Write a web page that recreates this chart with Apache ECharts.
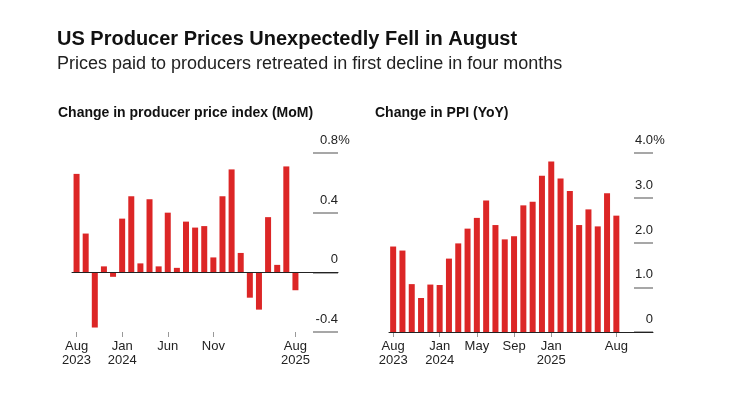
<!DOCTYPE html>
<html>
<head>
<meta charset="utf-8">
<script src="https://cdn.jsdelivr.net/npm/echarts@6/dist/echarts.min.js"></script>
<style>
  html, body { margin: 0; padding: 0; background: #fff; }
  #main { width: 733px; height: 397px; }
</style>
</head>
<body>
<div id="main"></div>
<script>
// months Aug 2023 .. Aug 2025
var months = ['Aug 2023', 'Sep 2023', 'Oct 2023', 'Nov 2023', 'Dec 2023',
  'Jan 2024', 'Feb 2024', 'Mar 2024', 'Apr 2024', 'May 2024', 'Jun 2024',
  'Jul 2024', 'Aug 2024', 'Sep 2024', 'Oct 2024', 'Nov 2024', 'Dec 2024',
  'Jan 2025', 'Feb 2025', 'Mar 2025', 'Apr 2025', 'May 2025', 'Jun 2025',
  'Jul 2025', 'Aug 2025']

// PPI month over month, %
var momValues = [0.66, 0.26, -0.37, 0.04, -0.03, 0.36, 0.51, 0.06, 0.49, 0.04,
  0.40, 0.03, 0.34, 0.30, 0.31, 0.10, 0.51, 0.69, 0.13, -0.17, -0.25, 0.37,
  0.05, 0.71, -0.12]

// PPI year over year, %
var yoyValues = [1.91, 1.82, 1.07, 0.76, 1.06, 1.05, 1.64, 1.98, 2.31, 2.55,
  2.94, 2.39, 2.07, 2.14, 2.83, 2.91, 3.49, 3.81, 3.43, 3.15, 2.39, 2.74,
  2.36, 3.10, 2.60]

// which months get a tick + label
var momTickLabels = { 0: 'Aug\n2023', 5: 'Jan\n2024', 10: 'Jun', 15: 'Nov', 24: 'Aug\n2025' }
var yoyTickLabels = { 0: 'Aug\n2023', 5: 'Jan\n2024', 9: 'May', 13: 'Sep', 17: 'Jan\n2025', 24: 'Aug' }

var FONT = '"Liberation Sans", Arial, sans-serif'
var RED = '#dc2626'
var TOP = 153
var H = 179
var PCT_W = 12   // room kept for the "%" that hangs past the numbers

var chart = echarts.init(document.getElementById('main'))

function catAxis(gridIndex, ticks) {
    return {
        type: 'category',
        gridIndex: gridIndex,
        data: months,
        position: 'bottom',
        axisLine: { show: false, onZero: false },
        axisTick: {
            show: true,
            alignWithLabel: true,
            length: 5,
            interval: function (i) { return ticks[i] !== undefined },
            lineStyle: { color: '#999' }
        },
        axisLabel: {
            interval: function (i) { return ticks[i] !== undefined },
            formatter: function (v, i) { return ticks[i] || '' },
            margin: 7,
            color: '#222',
            fontFamily: FONT,
            fontSize: 13,
            lineHeight: 14
        },
        splitLine: { show: false }
    }
}

// x axis that is not shown at all
function blankX(gridIndex) {
    return { type: 'value', gridIndex: gridIndex, min: 0, max: 1, show: false, splitLine: { show: false } }
}

// helper value axis, draws the zero baseline across the whole panel
function baseX(gridIndex) {
    return {
        type: 'value',
        gridIndex: gridIndex,
        min: 0,
        max: 1,
        z: 3,
        axisLine: { show: true, onZero: true, lineStyle: { color: '#222', width: 1 } },
        axisTick: { show: false },
        axisLabel: { show: false },
        splitLine: { show: false }
    }
}

function hiddenY(gridIndex, min, max, interval) {
    return {
        type: 'value', gridIndex: gridIndex, min: min, max: max, interval: interval,
        show: false, splitLine: { show: false }
    }
}

// short grey gridlines at the right with the labels sitting on them
function tickY(gridIndex, min, max, interval) {
    return {
        type: 'value',
        gridIndex: gridIndex,
        position: 'right',
        min: min,
        max: max,
        interval: interval,
        z: 1,
        axisLine: { show: false },
        axisTick: { show: false },
        splitLine: { show: true, lineStyle: { color: '#8a8a8a', width: 1.5 } },
        axisLabel: {
            inside: true,
            margin: -PCT_W,
            align: 'right',
            verticalAlign: 'bottom',
            color: '#222',
            fontFamily: FONT,
            fontSize: 13,
            formatter: function (v) {
                var s = v === 0 ? '0' : v.toFixed(1)
                return '{n|' + s + '}' + (v === max ? '{p|%}' : '{p| }')
            },
            rich: {
                n: { color: '#222', fontFamily: FONT, fontSize: 13, padding: [0, 0, 6, 0] },
                p: { width: PCT_W, align: 'left', color: '#222', fontFamily: FONT, fontSize: 13, padding: [0, 0, 6, 0] }
            }
        }
    }
}

var option = {
    backgroundColor: '#fff',
    animation: false,
    title: [{
        text: 'US Producer Prices Unexpectedly Fell in August',
        left: 57, top: 29, padding: 0,
        textStyle: { fontFamily: FONT, fontSize: 20, fontWeight: 'bold', color: '#111' }
    }, {
        text: 'Prices paid to producers retreated in first decline in four months',
        left: 57, top: 55, padding: 0,
        textStyle: { fontFamily: FONT, fontSize: 18, fontWeight: 'normal', color: '#222' }
    }, {
        text: 'Change in producer price index (MoM)',
        left: 58, top: 106, padding: 0,
        textStyle: { fontFamily: FONT, fontSize: 14, fontWeight: 'bold', color: '#111' }
    }, {
        text: 'Change in PPI (YoY)',
        left: 375, top: 106, padding: 0,
        textStyle: { fontFamily: FONT, fontSize: 14, fontWeight: 'bold', color: '#111' }
    }],
    grid: [
        // MoM panel: bars, gridline stubs, zero line
        { left: 72, width: 228, top: TOP, height: H },
        { left: 313, width: 25, top: TOP, height: H },
        { left: 72, width: 266, top: TOP, height: H },
        // YoY panel
        { left: 388.5, width: 232.5, top: TOP, height: H },
        { left: 634, width: 19, top: TOP, height: H },
        { left: 389, width: 264, top: TOP, height: H }
    ],
    xAxis: [
        catAxis(0, momTickLabels),
        blankX(1),
        baseX(2),
        catAxis(3, yoyTickLabels),
        blankX(4),
        baseX(5)
    ],
    yAxis: [
        hiddenY(0, -0.4, 0.8, 0.4),
        tickY(1, -0.4, 0.8, 0.4),
        hiddenY(2, -0.4, 0.8, 0.4),
        hiddenY(3, 0, 4, 1),
        tickY(4, 0, 4, 1),
        hiddenY(5, 0, 4, 1)
    ],
    series: [{
        type: 'bar',
        xAxisIndex: 0,
        yAxisIndex: 0,
        data: momValues,
        barWidth: 6,
        itemStyle: { color: RED }
    }, {
        type: 'bar',
        xAxisIndex: 3,
        yAxisIndex: 3,
        data: yoyValues,
        barWidth: 6,
        itemStyle: { color: RED }
    }]
}

chart.setOption(option)
</script>
</body>
</html>
